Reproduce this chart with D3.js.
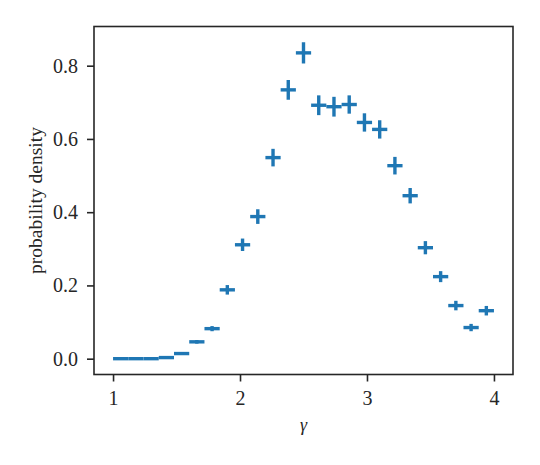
<!DOCTYPE html>
<html><head><meta charset="utf-8">
<script src="https://cdn.jsdelivr.net/npm/d3@7"></script>
<style>body{margin:0;background:#fff}svg{display:block}</style>
</head><body>
<svg id="c" width="540" height="465"></svg>
<script>
const binLefts = [1.00,1.12,1.24,1.36,1.48,1.60,1.72,1.84,1.96,2.08,2.20,2.32,2.44,2.56,2.68,2.80,2.92,3.04,3.16,3.28,3.40,3.52,3.64,3.76,3.88];
const binWidth = 0.12;
const density = [0.000,0.000,0.000,0.003,0.014,0.046,0.082,0.188,0.311,0.388,0.549,0.734,0.835,0.692,0.688,0.694,0.645,0.626,0.527,0.445,0.303,0.224,0.145,0.085,0.131];
const errors  = [0.000,0.000,0.000,0.002,0.004,0.005,0.007,0.013,0.017,0.020,0.024,0.027,0.029,0.027,0.027,0.025,0.025,0.025,0.024,0.021,0.018,0.015,0.013,0.010,0.013];
const xTicks = [1,2,3,4];
const yTicks = [0.0,0.2,0.4,0.6,0.8];
const xLabel = "γ";
const yLabel = "probability density";

const svg = d3.select("#c");
const L=94, R=513, T=26.5, B=374.5;
const x = d3.scaleLinear().domain([0.85,4.15]).range([L,R]);
const y = d3.scaleLinear().domain([-0.0432,0.907]).range([B,T]);
const blue = "#1f77b4", ink = "#262626";
const font = "'Liberation Serif', 'DejaVu Serif', serif";

const data = binLefts.map((l,i)=>({l, c:l+binWidth/2, v:density[i], e:errors[i]}));
const g = svg.append("g");
g.selectAll("line.h").data(data).join("line").attr("class","h")
  .attr("x1",d=>x(d.l)).attr("x2",d=>x(d.l+binWidth))
  .attr("y1",d=>y(d.v)).attr("y2",d=>y(d.v))
  .attr("stroke",blue).attr("stroke-width",3.4);
g.selectAll("line.v").data(data.filter(d=>d.e>0)).join("line").attr("class","v")
  .attr("x1",d=>x(d.c)).attr("x2",d=>x(d.c))
  .attr("y1",d=>y(d.v-d.e)).attr("y2",d=>y(d.v+d.e))
  .attr("stroke",blue).attr("stroke-width",3.4);

// axes
const xa = svg.append("g").attr("transform",`translate(0,${B})`)
  .call(d3.axisBottom(x).tickValues(xTicks).tickFormat(d3.format("d")).tickSize(7).tickPadding(9));
const ya = svg.append("g").attr("transform",`translate(${L},0)`)
  .call(d3.axisLeft(y).tickValues(yTicks).tickFormat(d3.format(".1f")).tickSize(7).tickPadding(9));
[xa,ya].forEach(a=>{
  a.select(".domain").remove();
  a.selectAll(".tick line").attr("stroke",ink).attr("stroke-width",1.6);
  a.selectAll(".tick text").attr("fill",ink).style("font-family",font).style("font-size","20px");
});
svg.append("rect").attr("x",L).attr("y",T).attr("width",R-L).attr("height",B-T)
  .attr("fill","none").attr("stroke",ink).attr("stroke-width",1.6);

svg.append("text").attr("x",(L+R)/2).attr("y",431).attr("text-anchor","middle")
  .style("font-family",font).style("font-size","18px").style("font-style","italic").attr("fill",ink).text(xLabel);
svg.append("text").attr("transform",`translate(42,${(T+B)/2}) rotate(-90)`).attr("text-anchor","middle")
  .style("font-family",font).style("font-size","19.5px").attr("fill",ink).text(yLabel);
</script>
</body></html>
